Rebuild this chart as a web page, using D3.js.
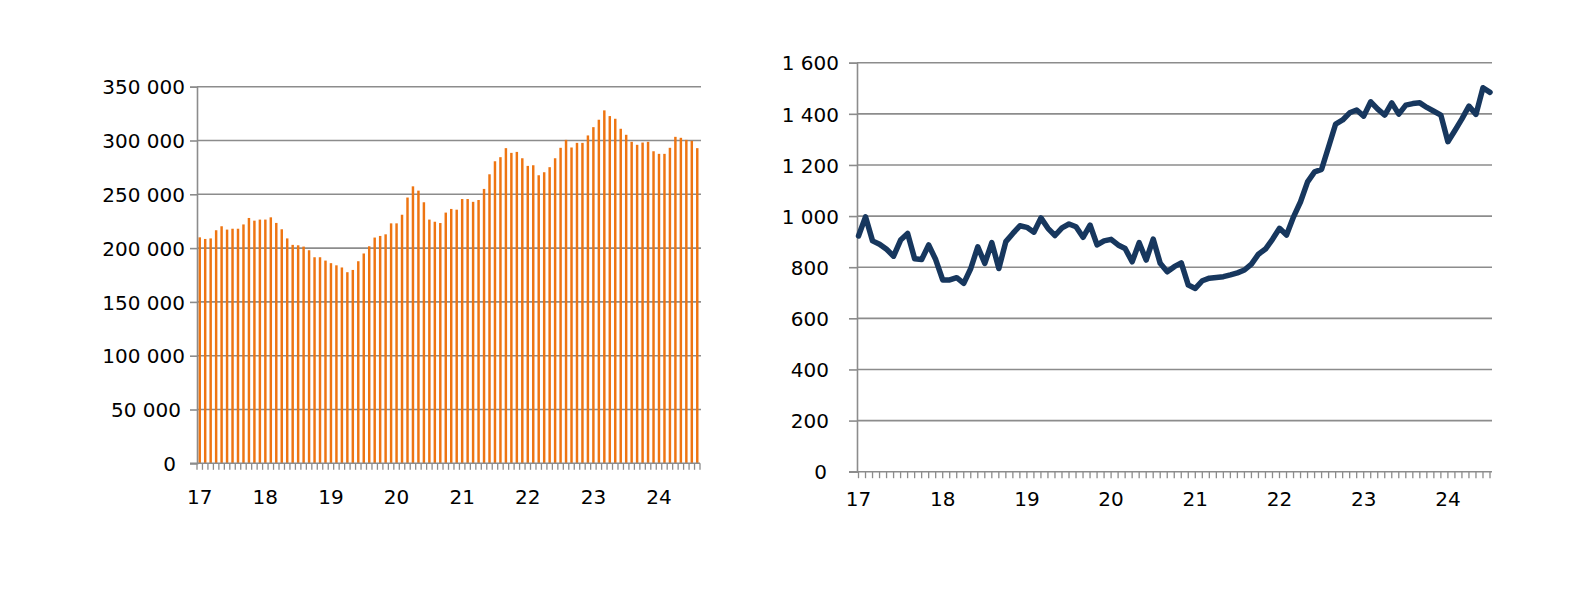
<!DOCTYPE html>
<html>
<head>
<meta charset="utf-8">
<script src="https://cdn.jsdelivr.net/npm/d3@7"></script>
<style>
  html, body { margin: 0; padding: 0; background: #ffffff; }
  svg { display: block; }
  text { font-family: "DejaVu Sans", Verdana, sans-serif; font-size: 20px; fill: #000; }
</style>
</head>
<body>
<svg id="chart" width="1588" height="597"></svg>
<script>
// ---------- DATA ----------
const yearLabels = ["17", "18", "19", "20", "21", "22", "23", "24"];

// Left chart: monthly bars, Jan 2017 .. Aug 2024
const barMonths = d3.range(92).map(i => `${2017 + Math.floor(i / 12)}-${String(i % 12 + 1).padStart(2, "0")}`);
const barValues = [
  210000, 208500, 209000, 216600, 220300, 217200, 218000, 218000, 222000, 228000, 225500, 226500,
  226500, 228600, 223400, 217500, 209000, 203000, 202600, 201400, 198000, 191500, 191500, 188400,
  186000, 184000, 182000, 177600, 179700, 187800, 195000, 201700, 209800, 211300, 212800, 223000,
  223000, 231000, 247000, 257400, 253400, 242600, 226500, 224500, 223300, 233000, 236400, 235700,
  245600, 245600, 243000, 244700, 255000, 268600, 280700, 284500, 292900, 288500, 289400, 283500,
  276400, 277000, 267700, 270500, 275200, 283500, 293200, 300600, 293500, 297800, 297800, 304700,
  312400, 319300, 328000, 322700, 320200, 310900, 305300, 298800, 296000, 298100, 298800, 290000,
  287600, 287600, 293200, 303400, 302500, 300600, 299700, 292900
];
const barTicks = [0, 50000, 100000, 150000, 200000, 250000, 300000, 350000];

// Right chart: monthly line, Jan 2017 .. Jul 2024
const lineMonths = d3.range(91).map(i => `${2017 + Math.floor(i / 12)}-${String(i % 12 + 1).padStart(2, "0")}`);
const lineValues = [
  922, 997, 903, 890, 870, 843, 906, 932, 833, 830, 887, 830,
  750, 750, 759, 737, 795, 880, 815, 896, 795, 900, 932, 962,
  956, 937, 993, 952, 924, 954, 969, 958, 917, 965, 887, 903,
  909, 887, 873, 821, 896, 828, 910, 815, 782, 802, 817, 730,
  717, 747, 757, 760, 763, 770, 778, 789, 812, 851, 871, 909,
  952, 926, 997, 1056, 1134, 1173, 1183, 1271, 1360, 1376, 1404, 1415,
  1391, 1447, 1418, 1395, 1443, 1399, 1434, 1440, 1443, 1425, 1410, 1395,
  1291, 1335, 1380, 1430, 1398, 1502, 1484
];
const lineTicks = [0, 200, 400, 600, 800, 1000, 1200, 1400, 1600];

// ---------- STYLE ----------
const gridColor = "#8c8c8c";
const barColor = "#EE7512";
const lineColor = "#17375E";
const fmt = v => d3.format(",")(v).replace(/,/g, " ");

const svg = d3.select("#chart");
svg.append("rect").attr("width", 1588).attr("height", 597).attr("fill", "#fff");

// ---------- LEFT: BAR CHART ----------
{
  const L = { x0: 197, x1: 700, y0: 463.3, y1: 86.7 };
  const x = d3.scaleBand().domain(barMonths).range([L.x0, L.x1]).paddingInner(0.55).paddingOuter(0.275);
  const xEdge = d3.scaleLinear().domain([0, barMonths.length]).range([L.x0, L.x1]);
  const y = d3.scaleLinear().domain([0, 350000]).range([L.y0, L.y1]);
  const g = svg.append("g");

  g.append("g").selectAll("line").data(barTicks.filter(t => t > 0)).join("line")
    .attr("x1", L.x0).attr("x2", L.x1 + 1)
    .attr("y1", d => y(d)).attr("y2", d => y(d))
    .attr("stroke", gridColor).attr("stroke-width", 1.6);

  g.append("g").selectAll("rect").data(barValues).join("rect")
    .attr("x", (d, i) => x(barMonths[i]))
    .attr("width", x.bandwidth())
    .attr("y", d => y(d))
    .attr("height", d => y(0) - y(d))
    .attr("fill", barColor);

  const ya = g.append("g").attr("transform", `translate(${L.x0},0)`)
    .call(d3.axisLeft(y).tickValues(barTicks).tickSize(7).tickPadding(5).tickFormat(fmt));
  ya.select(".domain").attr("stroke", gridColor).attr("stroke-width", 1.6);
  ya.selectAll(".tick line").attr("stroke", gridColor).attr("stroke-width", 1.6);
  ya.selectAll(".tick text").attr("font-family", "DejaVu Sans").attr("font-size", 20).attr("fill", "#000")
    .attr("dy", "0.36em")
    .attr("dx", d => d === 0 ? -9 : (d < 100000 ? -4 : 0));

  g.append("line").attr("x1", L.x0 - 7).attr("x2", L.x1).attr("y1", L.y0).attr("y2", L.y0)
    .attr("stroke", gridColor).attr("stroke-width", 1.6);
  g.append("g").selectAll("line").data(d3.range(barMonths.length + 1)).join("line")
    .attr("x1", d => xEdge(d)).attr("x2", d => xEdge(d))
    .attr("y1", L.y0).attr("y2", L.y0 + 6.5)
    .attr("stroke", gridColor).attr("stroke-width", 1.3);
  g.append("g").selectAll("text").data(yearLabels).join("text")
    .attr("x", (d, i) => x(barMonths[i * 12]) + x.bandwidth() / 2)
    .attr("y", 504)
    .attr("text-anchor", "middle")
    .text(d => d);
}

// ---------- RIGHT: LINE CHART ----------
{
  const R = { x0: 857, x1: 1492, y0: 471.7, y1: 62.7 };
  const x = d3.scalePoint().domain(lineMonths).range([858.5, 1490]);
  const y = d3.scaleLinear().domain([0, 1600]).range([R.y0, R.y1]);
  const g = svg.append("g");

  g.append("g").selectAll("line").data(lineTicks.filter(t => t > 0)).join("line")
    .attr("x1", R.x0).attr("x2", R.x1)
    .attr("y1", d => y(d)).attr("y2", d => y(d))
    .attr("stroke", gridColor).attr("stroke-width", 1.6);

  const ya = g.append("g").attr("transform", `translate(${R.x0},0)`)
    .call(d3.axisLeft(y).tickValues(lineTicks).tickSize(8).tickPadding(10).tickFormat(fmt));
  ya.select(".domain").attr("stroke", gridColor).attr("stroke-width", 1.6);
  ya.selectAll(".tick line").attr("stroke", gridColor).attr("stroke-width", 1.6);
  ya.selectAll(".tick text").attr("font-family", "DejaVu Sans").attr("font-size", 20).attr("fill", "#000")
    .attr("dy", "0.36em")
    .attr("dx", d => d === 0 ? -12 : (d < 1000 ? -10 : 0));

  g.append("line").attr("x1", R.x0 - 8).attr("x2", R.x1).attr("y1", R.y0).attr("y2", R.y0)
    .attr("stroke", gridColor).attr("stroke-width", 1.6);
  g.append("g").selectAll("line").data(lineMonths).join("line")
    .attr("x1", d => x(d)).attr("x2", d => x(d))
    .attr("y1", R.y0).attr("y2", R.y0 + 6.5)
    .attr("stroke", gridColor).attr("stroke-width", 1.3);
  g.append("g").selectAll("text").data(yearLabels).join("text")
    .attr("x", (d, i) => x(lineMonths[i * 12]))
    .attr("y", 506)
    .attr("text-anchor", "middle")
    .text(d => d);

  const line = d3.line().x((d, i) => x(lineMonths[i])).y(d => y(d));
  g.append("path").datum(lineValues)
    .attr("d", line)
    .attr("fill", "none")
    .attr("stroke", lineColor)
    .attr("stroke-width", 5.5)
    .attr("stroke-linejoin", "round")
    .attr("stroke-linecap", "round");
}
</script>
</body>
</html>
